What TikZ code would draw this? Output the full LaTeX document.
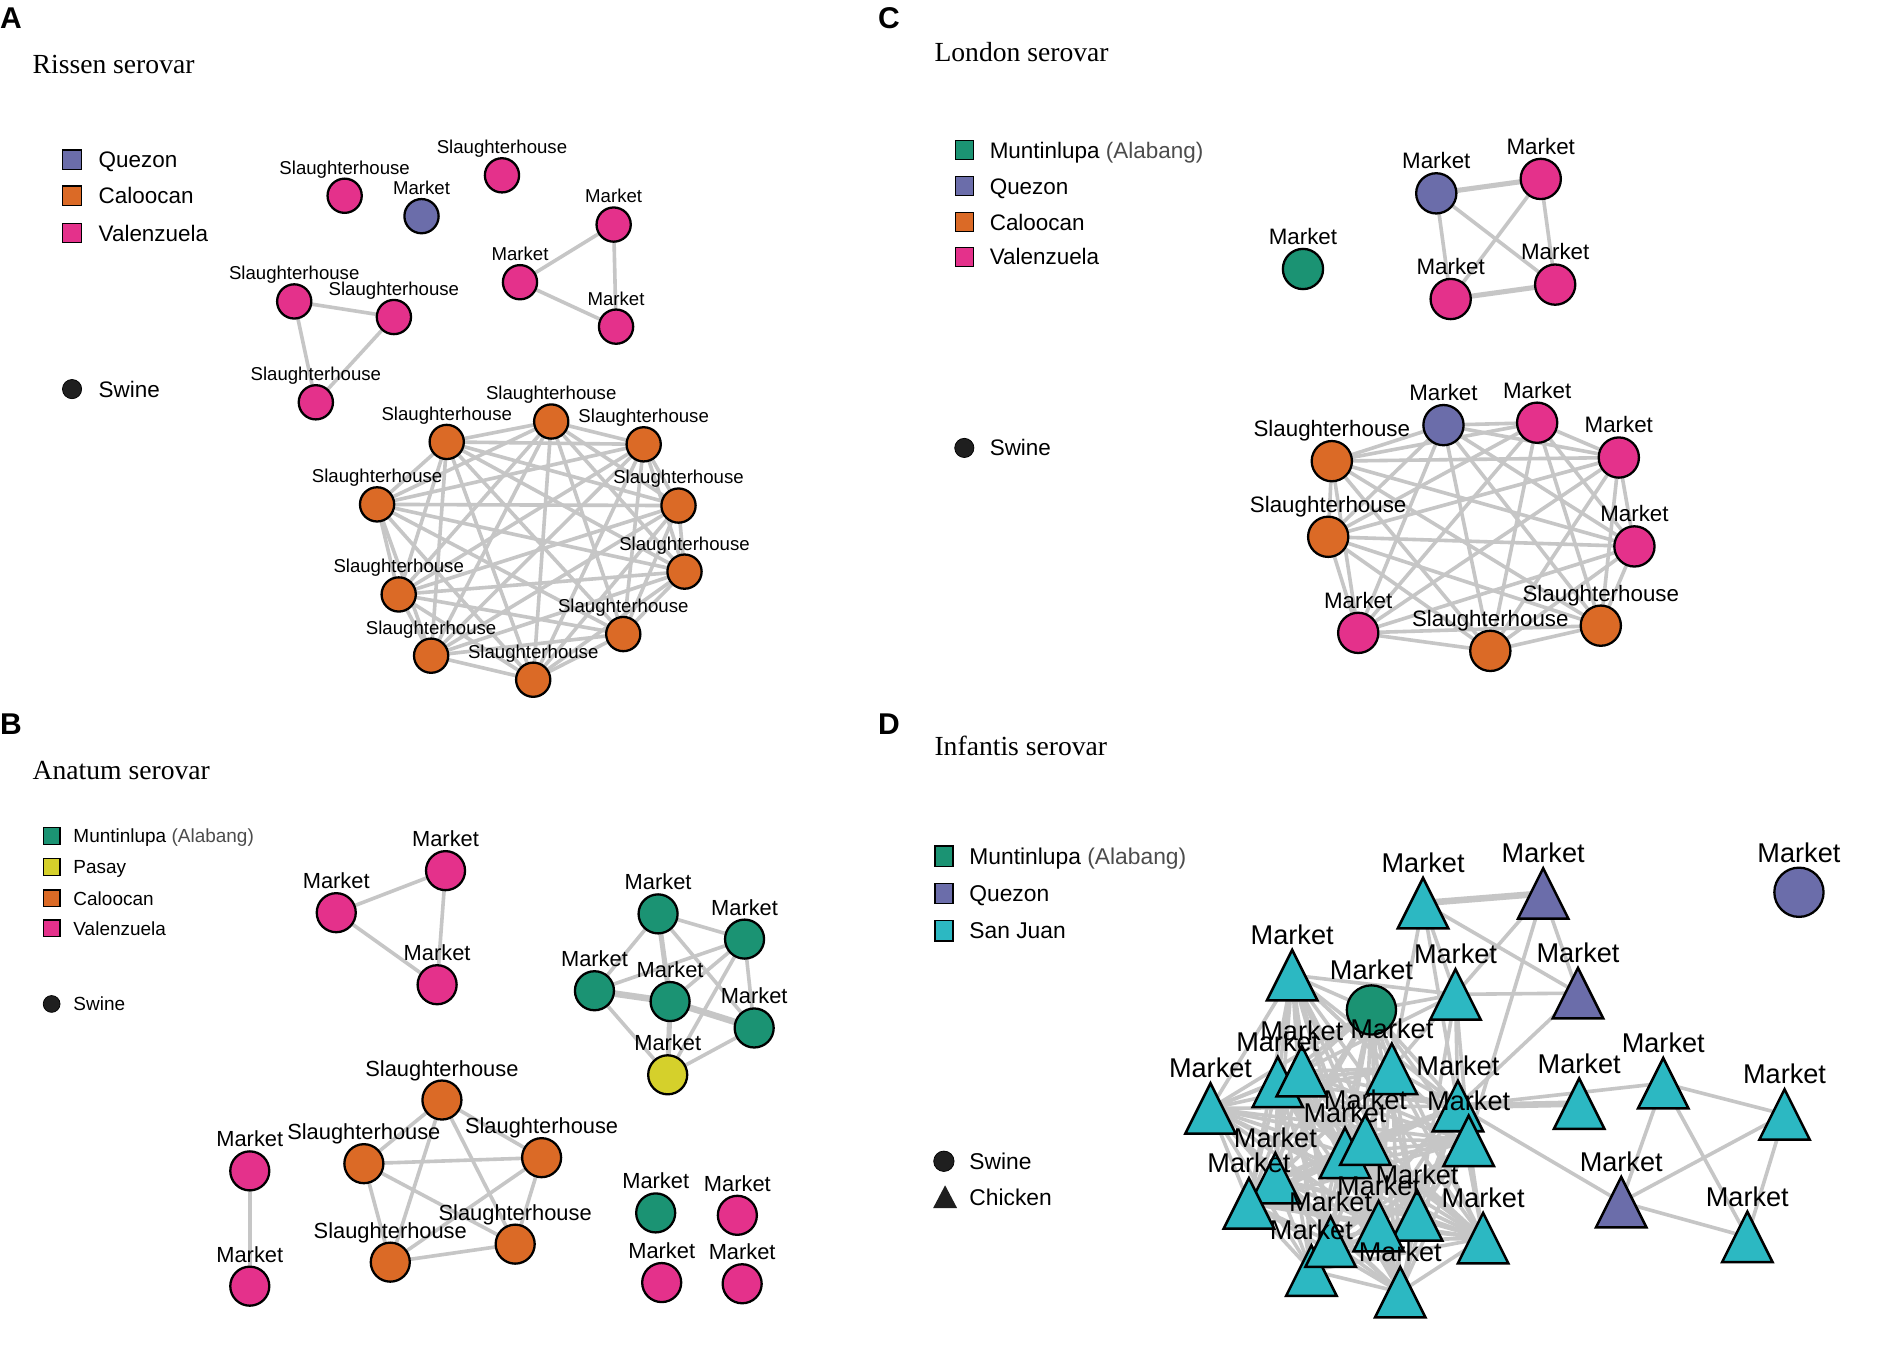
\documentclass[tikz,border=0pt]{standalone}
\usepackage{fontspec}
\setmainfont{Liberation Sans}
\newfontfamily\serifttl{Liberation Serif}
\usetikzlibrary{backgrounds}
\definecolor{qz}{HTML}{6B6DAA}
\definecolor{cl}{HTML}{DB6A26}
\definecolor{vz}{HTML}{E4318B}
\definecolor{mt}{HTML}{1B9373}
\definecolor{ps}{HTML}{D5D02B}
\definecolor{sj}{HTML}{2CB8C2}
\definecolor{eg}{HTML}{C6C6C6}
\begin{document}
\begin{tikzpicture}[x=1pt,y=-1pt,
 vtx/.style={circle,draw=black,line width=1.9pt,inner sep=0pt,fill=#1},
 vA/.style={vtx=#1,minimum size=28.5pt},
 vB/.style={vtx=#1,minimum size=32.5pt},
 vC/.style={vtx=#1,minimum size=33.5pt},
 lab/.style={inner sep=0pt,anchor=base},
 fA/.style={font=\fontsize{15.5}{18}\selectfont},
 fB/.style={font=\fontsize{18.2}{20}\selectfont},
 fC/.style={font=\fontsize{18.6}{20}\selectfont},
 fD/.style={font=\fontsize{22.6}{24}\selectfont},
 fL/.style={font=\fontsize{18.7}{20}\selectfont},
 fLB/.style={font=\fontsize{15.8}{18}\selectfont},
 fLD/.style={font=\fontsize{19}{21}\selectfont},
 ttl/.style={font=\serifttl\fontsize{23}{25}\selectfont,anchor=base west,inner sep=0pt},
 pl/.style={font=\bfseries\fontsize{25}{27}\selectfont,anchor=base west,inner sep=0pt},
 leg/.style={inner sep=0pt,anchor=base west},
 sq/.style={draw=black,line width=1.2pt,fill=#1,inner sep=0pt},
 dotleg/.style={circle,fill=black!88,draw=black,line width=0.6pt,inner sep=0pt,minimum size=#1},
 edge/.style={draw=eg,line width=3pt},
 medge/.style={draw=eg,line width=4.2pt},
 tedge/.style={draw=eg,line width=5.5pt},
 tri/.style={draw=black,line width=2.1pt,fill=#1},
]
\begin{pgfonlayer}{background}
\fill[white] (0,0) rectangle (1568,1124);
\end{pgfonlayer}
\useasboundingbox (0,0) rectangle (1568,1124);

% ================= Panel A =================
\node[pl] (pA) at (0,24) {A};
\node[ttl] (tA) at (27,61.5) {Rissen serovar};
\node[sq=qz,minimum width=16pt,minimum height=16pt] (lgA1) at (60,133) {};
\node[sq=cl,minimum width=16pt,minimum height=16pt] (lgA2) at (60,163) {};
\node[sq=vz,minimum width=16pt,minimum height=16pt] (lgA3) at (60,194) {};
\node[leg,fL] (lgA1t) at (82,139.7) {Quezon};
\node[leg,fL] (lgA2t) at (82,169.7) {Caloocan};
\node[leg,fL] (lgA3t) at (82,200.7) {Valenzuela};
\node[dotleg=16pt] (lgA4) at (60,324) {};
\node[leg,fL] (lgA4t) at (82,330.7) {Swine};

\foreach \n/\x/\y/\c/\t in {A1/287/163/vz/Slaughterhouse, A2/351/180/qz/Market,
  A3/418/146/vz/Slaughterhouse, A4/511/187/vz/Market, A5/433/235/vz/Market,
  A6/513/272/vz/Market, A7/245/251/vz/Slaughterhouse, A8/328/264/vz/Slaughterhouse,
  A9/263/335/vz/Slaughterhouse, O1/459/351/cl/Slaughterhouse, O2/372/368/cl/Slaughterhouse,
  O3/536/370/cl/Slaughterhouse, O4/314/420/cl/Slaughterhouse, O5/565/421/cl/Slaughterhouse,
  O6/570/476/cl/Slaughterhouse, O7/332/495/cl/Slaughterhouse, O8/519/528/cl/Slaughterhouse,
  O9/359/546/cl/Slaughterhouse, O10/444/566/cl/Slaughterhouse}{
  \node[vA=\c] (\n) at (\x,\y) {};
  \node[lab,fA] (L\n) at (\x,\y-18) {\t};
}
\begin{pgfonlayer}{background}
\foreach \u/\v in {A4/A5,A4/A6,A5/A6,A7/A8,A7/A9,A8/A9}
  \draw[edge] (\u.center) -- (\v.center);
\foreach \i [evaluate=\i as \k using int(\i+1)] in {1,...,9}{
  \foreach \j in {\k,...,10}{\draw[edge] (O\i.center) -- (O\j.center);}}
\end{pgfonlayer}

% ================= Panel C =================
\node[pl] (pC) at (731,24) {C};
\node[ttl] (tC) at (778,51) {London serovar};
\node[sq=mt,minimum width=15pt,minimum height=16pt] (lgC1) at (803,125) {};
\node[sq=qz,minimum width=15pt,minimum height=16pt] (lgC2) at (803,155) {};
\node[sq=cl,minimum width=15pt,minimum height=16pt] (lgC3) at (803,185) {};
\node[sq=vz,minimum width=15pt,minimum height=16pt] (lgC4) at (803,214) {};
\node[leg,fL] (lgC1t) at (824,131.6) {Muntinlupa \textcolor{black!70}{(Alabang)}};
\node[leg,fL] (lgC2t) at (824,161.6) {Quezon};
\node[leg,fL] (lgC3t) at (824,191.6) {Caloocan};
\node[leg,fL] (lgC4t) at (824,220.6) {Valenzuela};
\node[dotleg=16pt] (lgC5) at (803,373) {};
\node[leg,fL] (lgC5t) at (824,379.7) {Swine};

\foreach \n/\x/\y/\c/\t in {C1/1085/224/mt/Market, C2/1196/161/qz/Market,
  C3/1283/149/vz/Market, C4/1208/249/vz/Market, C5/1295/237/vz/Market,
  K1/1202/354/qz/Market, K2/1280/352/vz/Market, K3/1348/381/vz/Market,
  K4/1361/455/vz/Market, K5/1333/521/cl/Slaughterhouse, K6/1241/542/cl/Slaughterhouse,
  K7/1131/527/vz/Market, K8/1106/447/cl/Slaughterhouse, K9/1109/384/cl/Slaughterhouse}{
  \node[vC=\c] (\n) at (\x,\y) {};
  \node[lab,fC] (L\n) at (\x,\y-20.5) {\t};
}
\begin{pgfonlayer}{background}
\foreach \u/\v in {C2/C4,C2/C5,C3/C4,C3/C5}
  \draw[edge] (\u.center) -- (\v.center);
\draw[medge] (C2.center) -- (C3.center);
\draw[medge] (C4.center) -- (C5.center);
\foreach \i [evaluate=\i as \k using int(\i+1)] in {1,...,8}{
  \foreach \j in {\k,...,9}{\draw[edge] (K\i.center) -- (K\j.center);}}
\end{pgfonlayer}

% ================= Panel B =================
\node[pl] (pB) at (0,612) {B};
\node[ttl] (tB) at (27,649.5) {Anatum serovar};
\node[sq=mt,minimum width=14pt,minimum height=14pt] (lgB1) at (43,696) {};
\node[sq=ps,minimum width=14pt,minimum height=14pt] (lgB2) at (43,722) {};
\node[sq=cl,minimum width=14pt,minimum height=14pt] (lgB3) at (43,748) {};
\node[sq=vz,minimum width=14pt,minimum height=14pt] (lgB4) at (43,773) {};
\node[leg,fLB] (lgB1t) at (61,701.7) {Muntinlupa \textcolor{black!70}{(Alabang)}};
\node[leg,fLB] (lgB2t) at (61,727.7) {Pasay};
\node[leg,fLB] (lgB3t) at (61,753.7) {Caloocan};
\node[leg,fLB] (lgB4t) at (61,778.7) {Valenzuela};
\node[dotleg=14pt] (lgB5) at (43,836) {};
\node[leg,fLB] (lgB5t) at (61,841.7) {Swine};

\foreach \n/\x/\y/\c/\t in {B1/371/725/vz/Market, B2/280/760/vz/Market, B3/364/820/vz/Market,
  G1/548/761/mt/Market, G2/620/782/mt/Market, G3/495/825/mt/Market, G4/558/834/mt/Market,
  G5/628/856/mt/Market, G6/556/895/ps/Market,
  P1/368/916/cl/Slaughterhouse, P2/303/969/cl/Slaughterhouse, P3/451/964/cl/Slaughterhouse,
  P4/325/1051/cl/Slaughterhouse, P5/429/1036/cl/Slaughterhouse,
  M1/208/975/vz/Market, M2/208/1071/vz/Market,
  I1/546/1010/mt/Market, I2/614/1012/vz/Market, I3/551/1068/vz/Market, I4/618/1069/vz/Market}{
  \node[vB=\c] (\n) at (\x,\y) {};
  \node[lab,fB] (L\n) at (\x,\y-20) {\t};
}
\begin{pgfonlayer}{background}
\foreach \u/\v in {B1/B2,B1/B3,B2/B3,M1/M2,G1/G2,G1/G3,G1/G5,G2/G3,G2/G4,G2/G5,G2/G6,G3/G6,G5/G6}
  \draw[edge] (\u.center) -- (\v.center);
\foreach \u/\v in {G1/G4,G4/G6}
  \draw[medge] (\u.center) -- (\v.center);
\foreach \u/\v in {G3/G4,G4/G5}
  \draw[tedge] (\u.center) -- (\v.center);
\foreach \i [evaluate=\i as \k using int(\i+1)] in {1,...,4}{
  \foreach \j in {\k,...,5}{\draw[edge] (P\i.center) -- (P\j.center);}}
\end{pgfonlayer}

% ================= Panel D =================
\node[pl] (pD) at (731,612) {D};
\node[ttl] (tD) at (778,629.5) {Infantis serovar};
\node[sq=mt,minimum width=15pt,minimum height=17pt] (lgD1) at (786,713) {};
\node[sq=qz,minimum width=15pt,minimum height=17pt] (lgD2) at (786,744) {};
\node[sq=sj,minimum width=15pt,minimum height=17pt] (lgD3) at (786,775) {};
\node[leg,fLD] (lgD1t) at (807,719.8) {Muntinlupa \textcolor{black!70}{(Alabang)}};
\node[leg,fLD] (lgD2t) at (807,750.8) {Quezon};
\node[leg,fLD] (lgD3t) at (807,781.8) {San Juan};
\node[dotleg=17pt] (lgD4) at (786,967) {};
\node[leg,fLD] (lgD4t) at (807,973.8) {Swine};
\coordinate (lgD5) at (787,997);
\fill[black!88] (lgD5) ++(0,-10) -- ++(-10,19) -- ++(20,0) -- cycle;
\node[leg,fLD] (lgD5t) at (807,1003.8) {Chicken};

\foreach \n/\x/\y in {d1/1076/812, d2/1142/841, d3/1008/923, d4/1064/901, d5/1084/892,
  d6/1159/890, d7/1214/921, d8/1223/950, d9/1120/960, d10/1137/949, d11/1062/981,
  d12/1040/1002, d13/1180/1012, d14/1148/1021, d15/1235/1031, d16/1092/1058,
  d17/1108/1034, d18/1166/1076}
  \coordinate (\n) at (\x,\y);
\coordinate (TC) at (1185,752);
\coordinate (TP) at (1285,744);
\coordinate (T3) at (1212,828);
\coordinate (PM) at (1314,827);
\coordinate (R1) at (1315,919);
\coordinate (R2) at (1385,902);
\coordinate (R3) at (1486,928);
\coordinate (R4) at (1350,1001);
\coordinate (R5) at (1455,1030);
\coordinate (ISO) at (1498,743);

\foreach \i [evaluate=\i as \k using int(\i+1)] in {1,...,17}{
  \foreach \j in {\k,...,18}{\draw[edge] (d\i) -- (d\j);}}
\foreach \u/\v in {T3/d1,T3/d2,T3/d5,T3/d6,T3/d7,T3/d8,T3/d13,TC/T3,TC/d6,TC/d7,TC/PM,
  TP/T3,TP/d8,TP/PM,T3/PM,PM/d7,d7/R2,d7/R4,R2/R3,R2/R4,R2/R5,R3/R4,R3/R5,R4/R5}
  \draw[edge] (\u) -- (\v);
\draw[tedge] (TC) -- (TP);
\draw[tedge] (d7) -- (R1);

% shapes
\foreach \n/\c in {TC/sj, TP/qz, d1/sj, T3/sj, PM/qz, R1/sj, R2/sj, R3/sj, R4/qz, R5/sj,
  d3/sj, d4/sj, d5/sj, d6/sj, d7/sj, d8/sj, d9/sj, d10/sj, d11/sj, d12/sj, d13/sj,
  d14/sj, d15/sj, d16/sj, d17/sj, d18/sj}
  \draw[tri=\c] (\n) ++(0,-21) -- ++(-21,42) -- ++(42,0) -- cycle;
\draw[draw=black,line width=1.9pt,fill=mt] (d2) circle (20.5);
\draw[draw=black,line width=1.9pt,fill=qz] (ISO) circle (20.5);

% labels
\foreach \n/\x/\y in {TC/1185/752, TP/1285/744, d1/1076/812, d2/1142/841, T3/1212/828,
  PM/1314/827, R1/1315/919, R2/1385/902, R3/1486/928, R4/1350/1001, R5/1455/1030,
  d3/1008/923, d4/1064/901, d5/1084/892, d6/1159/890, d7/1214/921, d8/1223/950,
  d9/1120/960, d10/1137/949, d11/1062/981, d12/1040/1002, d13/1180/1012, d14/1148/1021,
  d15/1235/1031, d16/1092/1058, d17/1108/1034, d18/1166/1076, ISO/1498/743.5}
  \node[lab,fD] (L\n) at (\x,\y-25.5) {Market};
\end{tikzpicture}
\end{document}
